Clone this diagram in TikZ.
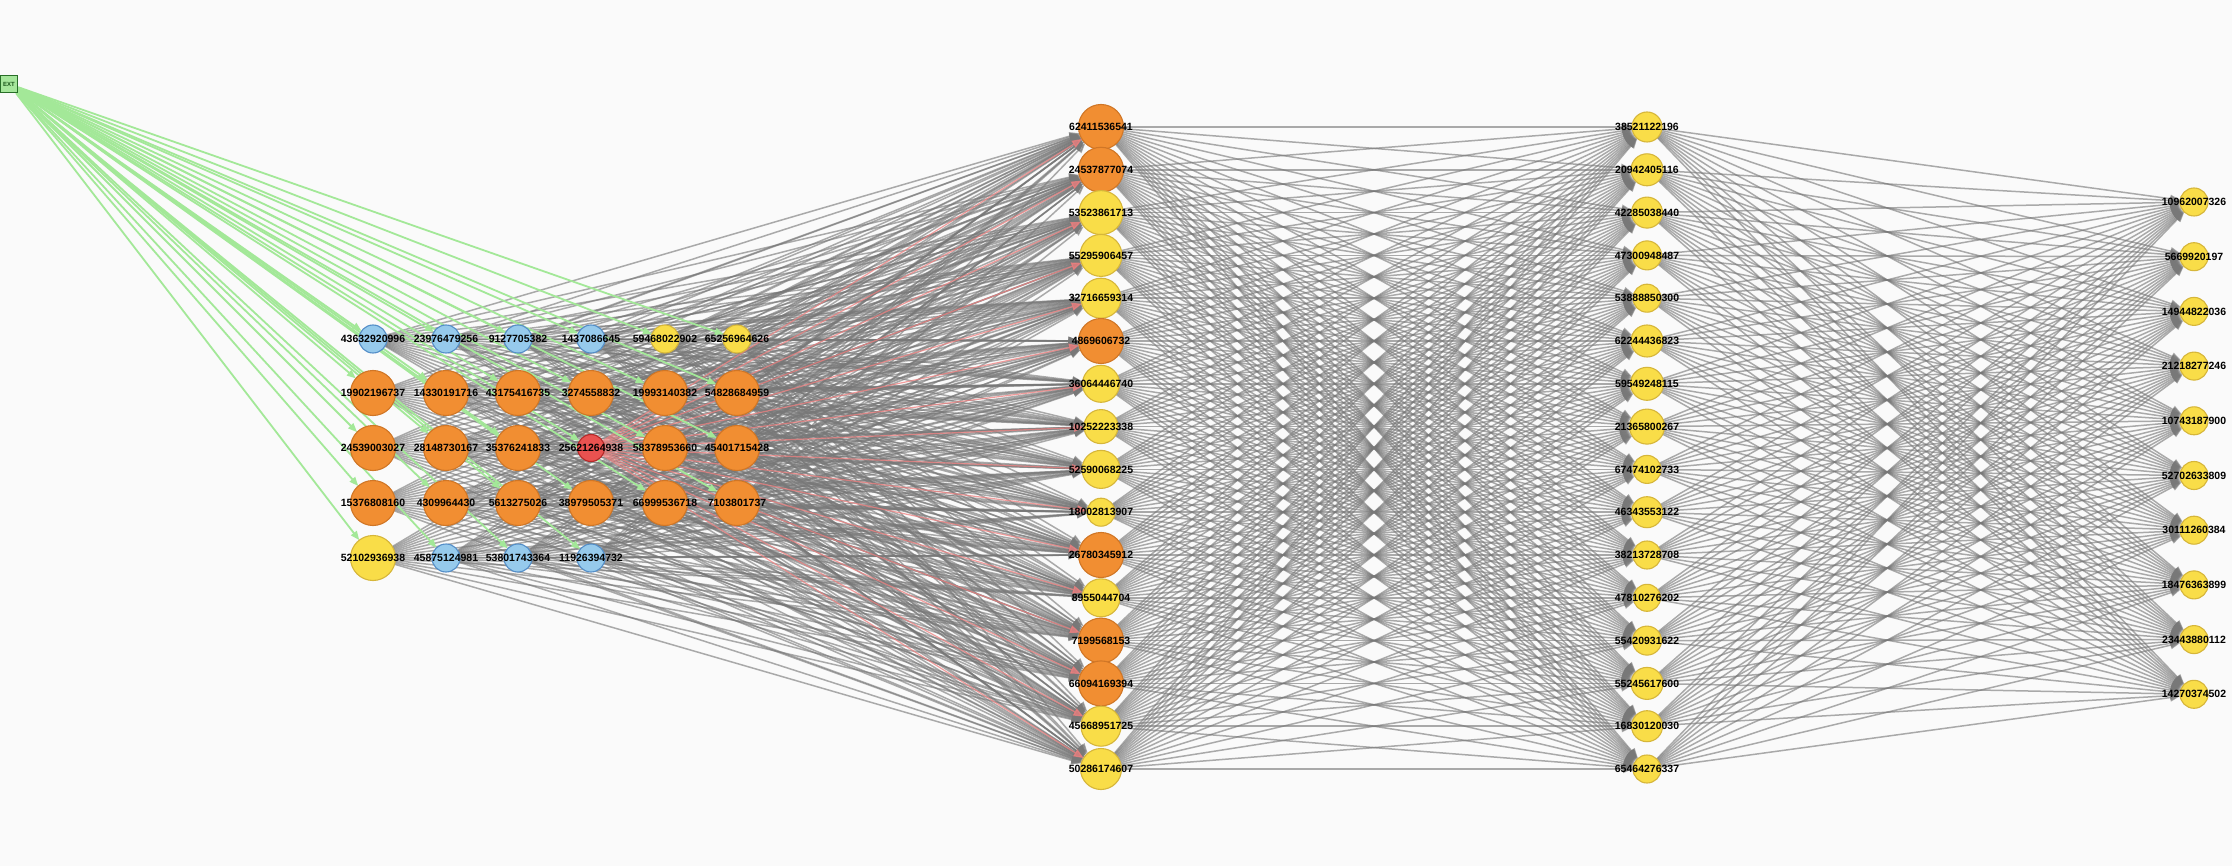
\documentclass[tikz,border=0pt]{standalone}
\usepackage{fontspec}
\setmainfont{Liberation Sans}
\usetikzlibrary{arrows.meta}
\pgfdeclarelayer{background}
\pgfdeclarelayer{edges}
\pgfsetlayers{background,edges,main}
\definecolor{bgc}{RGB}{250,250,250}
\definecolor{cOrF}{RGB}{241,142,50}
\definecolor{cOrL}{RGB}{208,118,38}
\definecolor{cYeF}{RGB}{249,221,72}
\definecolor{cYeL}{RGB}{214,182,58}
\definecolor{cBlF}{RGB}{150,202,236}
\definecolor{cBlL}{RGB}{84,142,200}
\definecolor{cRdF}{RGB}{233,82,80}
\definecolor{cRdL}{RGB}{182,42,42}
\definecolor{cGrF}{RGB}{165,230,155}
\definecolor{cGrL}{RGB}{40,110,40}
\definecolor{cGrT}{RGB}{25,85,25}
\definecolor{cEdge}{RGB}{120,120,120}
\definecolor{cGrE}{RGB}{163,232,152}
\definecolor{cRdE}{RGB}{240,128,128}
\tikzset{
  nd/.style={circle, line width=1.1pt, inner sep=0pt, outer sep=0pt},
  orn/.style={nd, fill=cOrF, draw=cOrL},
  yen/.style={nd, fill=cYeF, draw=cYeL},
  bln/.style={nd, fill=cBlF, draw=cBlL},
  rdn/.style={nd, fill=cRdF, draw=cRdL},
  extn/.style={rectangle, fill=cGrF, draw=cGrL, line width=1.3pt, minimum size=17pt, inner sep=0pt,
    font=\bfseries\fontsize{6}{7}\selectfont, text=cGrT},
  lbl/.style={font=\bfseries\fontsize{10.5}{12}\selectfont, text=black, inner sep=0pt},
  ge/.style={draw=cEdge, opacity=0.62, line width=1.5pt, -{Triangle[length=10pt,width=8pt]}},
  re/.style={draw=cRdE, opacity=0.75, line width=1.2pt, -{Triangle[length=10pt,width=8pt]}},
  gre/.style={draw=cGrE, line width=1.8pt, -{Triangle[length=9pt,width=7pt]}},
}
\def\gridA{43632920996,23976479256,9127705382,1437086645,59468022902,65256964626,19902196737,14330191716,43175416735,3274558832,19993140382,54828684959,24539003027,28148730167,35376241833,58378953660,45401715428,15376808160,4309964430,5613275026,38979505371,66999536718,7103801737,52102936938,45875124981,53801743364,11926394732}
\def\colB{62411536541,24537877074,53523861713,55295906457,32716659314,4869606732,36064446740,10252223338,52590068225,18002813907,26780345912,8955044704,7199568153,66094169394,45668951725,50286174607}
\def\colC{38521122196,20942405116,42285038440,47300948487,53888850300,62244436823,59549248115,21365800267,67474102733,46343553122,38213728708,47810276202,55420931622,55245617600,16830120030,65464276337}
\def\colD{10962007326,5669920197,14944822036,21218277246,10743187900,52702633809,30111260384,18476363899,23443880112,14270374502}
\begin{document}
\begin{tikzpicture}[x=1pt,y=-1pt]
\useasboundingbox (0,0) rectangle (2232,866);
\begin{pgfonlayer}{background}
\fill[bgc] (0,0) rectangle (2232,866);
\end{pgfonlayer}
% source
\node[extn] (ext) at (9,84) {EXT};
% grid cluster
\foreach \nm/\x/\y/\st/\d in {
43632920996/373/339/bln/28,
23976479256/446/339/bln/28,
9127705382/518/339/bln/28,
1437086645/591/339/bln/28,
59468022902/665/339/yen/28,
65256964626/737/339/yen/28,
19902196737/373/393/orn/45,
14330191716/446/393/orn/45,
43175416735/518/393/orn/45,
3274558832/591/393/orn/45,
19993140382/665/393/orn/45,
54828684959/737/393/orn/45,
24539003027/373/448/orn/45,
28148730167/446/448/orn/45,
35376241833/518/448/orn/45,
25621264938/591/448/rdn/27,
58378953660/665/448/orn/45,
45401715428/737/448/orn/45,
15376808160/373/503/orn/45,
4309964430/446/503/orn/45,
5613275026/518/503/orn/45,
38979505371/591/503/orn/45,
66999536718/665/503/orn/45,
7103801737/737/503/orn/45,
52102936938/373/558/yen/45,
45875124981/446/558/bln/28,
53801743364/518/558/bln/28,
11926394732/591/558/bln/28}
{\node[\st, minimum size=\d pt, label={[lbl]center:\nm}] (n\nm) at (\x,\y) {};}
% second column
\foreach \nm/\st/\d [count=\i from 0] in {
62411536541/orn/45, 24537877074/orn/45, 53523861713/yen/44, 55295906457/yen/42,
32716659314/yen/40, 4869606732/orn/45, 36064446740/yen/37, 10252223338/yen/34,
52590068225/yen/38, 18002813907/yen/28, 26780345912/orn/45, 8955044704/yen/38,
7199568153/orn/45, 66094169394/orn/45, 45668951725/yen/40, 50286174607/yen/41}
{\node[\st, minimum size=\d pt, label={[lbl]center:\nm}] (n\nm) at (1101,{127+42.8*\i}) {};}
% third column
\foreach \nm/\d [count=\i from 0] in {
38521122196/30, 20942405116/32, 42285038440/31, 47300948487/29,
53888850300/28, 62244436823/32, 59549248115/33, 21365800267/35,
67474102733/28, 46343553122/31, 38213728708/28, 47810276202/27,
55420931622/29, 55245617600/32, 16830120030/31, 65464276337/28}
{\node[yen, minimum size=\d pt, label={[lbl]center:\nm}] (n\nm) at (1647,{127+42.8*\i}) {};}
% fourth column
\foreach \nm [count=\i from 0] in \colD
{\node[yen, minimum size=28pt, label={[lbl]center:\nm}] (n\nm) at (2194,{202+54.7*\i}) {};}
% connectors
\begin{pgfonlayer}{edges}
\foreach \a in \gridA {\foreach \b in \colB {\draw[ge] (n\a) -- (n\b);}}
\foreach \b in \colB {\draw[re] (n25621264938) -- (n\b);}
\foreach \a in \colB {\foreach \b in \colC {\draw[ge] (n\a) -- (n\b);}}
\foreach \a in \colC {\foreach \b in \colD {\draw[ge] (n\a) -- (n\b);}}
\foreach \b in \gridA {\draw[gre] (ext) -- (n\b);}
\draw[gre] (ext) -- (n25621264938);
\end{pgfonlayer}
\end{tikzpicture}
\end{document}
